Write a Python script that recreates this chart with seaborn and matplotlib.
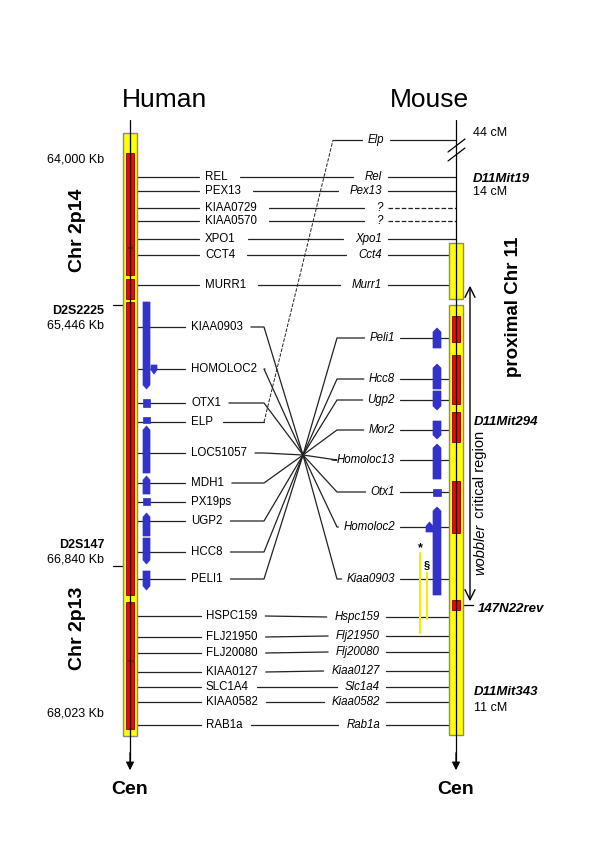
import matplotlib.pyplot as plt
import seaborn as sns
from matplotlib.patches import Rectangle, Polygon

# genes shared by the two maps, top block
human_top = ['REL', 'PEX13', 'KIAA0729', 'KIAA0570', 'XPO1', 'CCT4', 'MURR1']
mouse_top = ['Rel', 'Pex13', '?', '?', 'Xpo1', 'Cct4', 'Murr1']
top_y = [177, 191, 208, 221, 239, 255, 285]
top_unmapped = [False, False, True, True, False, False, False]

# inverted block (crossing lines)
human_mid = ['KIAA0903', 'HOMOLOC2', 'OTX1', 'ELP', 'LOC51057', 'MDH1', 'PX19ps', 'UGP2', 'HCC8', 'PELI1']
human_mid_y = [327, 369, 403, 422, 453, 483, 502, 521, 552, 579]
human_mid_cross = [True, True, True, False, True, True, False, True, True, True]
mouse_mid = ['Peli1', 'Hcc8', 'Ugp2', 'Mor2', 'Homoloc13', 'Otx1', 'Homoloc2', 'Kiaa0903']
mouse_mid_y = [338, 379, 400, 430, 460, 492, 527, 579]
elp_mouse_y = 140

# bottom block
human_bot = ['HSPC159', 'FLJ21950', 'FLJ20080', 'KIAA0127', 'SLC1A4', 'KIAA0582', 'RAB1a']
human_bot_y = [616, 637, 653, 672, 687, 702, 725]
mouse_bot = ['Hspc159', 'Flj21950', 'Flj20080', 'Kiaa0127', 'Slc1a4', 'Kiaa0582', 'Rab1a']
mouse_bot_y = [617, 636, 652, 671, 687, 702, 725]

# contigs (yellow) and clones (red), start/end positions
human_yellow = [(133, 736)]
human_red = [(153, 247), (248, 275), (279, 299), (302, 595), (602, 660), (661, 729)]
mouse_yellow = [(243, 299), (305, 735)]
mouse_red = [(316, 342), (355, 404), (412, 442), (481, 533), (600, 610)]

# transcripts: (start, end, direction)
human_tx = [(302, 389, 'down'), (399, 407, ''), (417, 423, ''), (426, 473, 'up'),
            (476, 494, 'up'), (498, 505, ''), (513, 536, 'up'), (538, 564, 'down'),
            (571, 590, 'down')]
mouse_tx = [(328, 348, 'up'), (364, 389, 'up'), (391, 410, 'down'), (421, 439, 'down'),
            (444, 479, 'up'), (489, 496, ''), (507, 595, 'up')]

sns.set_theme(style='white')
plt.rcParams['font.family'] = ['Liberation Sans', 'DejaVu Sans']
plt.rcParams['text.color'] = 'black'

fig = plt.figure(figsize=(6, 8.66), dpi=100)
ax = fig.add_axes([0, 0, 1, 1])
ax.set_xlim(0, 600)
ax.set_ylim(866, 0)
ax.axis('off')
renderer = fig.canvas.get_renderer()

HX, MX = 130, 456
LC = '#222222'
BLUE = '#3333cc'


def put(x, y, s, ha='left', size=8.3, **kw):
    t = ax.text(x, y, s, ha=ha, va='center', fontsize=size, **kw)
    bb = t.get_window_extent(renderer).transformed(ax.transData.inverted())
    return bb.x0, bb.x1


def seg(xs, ys, **kw):
    kw.setdefault('color', LC)
    kw.setdefault('lw', 0.9)
    ax.plot(xs, ys, zorder=1, **kw)


def tx_box(x0, x1, y0, y1, d):
    xm, tip = (x0 + x1) / 2, 4
    if d == 'up':
        v = [(x0, y1), (x0, y0 + tip), (xm, y0), (x1, y0 + tip), (x1, y1)]
    elif d == 'down':
        v = [(x0, y0), (x1, y0), (x1, y1 - tip), (xm, y1), (x0, y1 - tip)]
    else:
        v = [(x0, y0), (x1, y0), (x1, y1), (x0, y1)]
    ax.add_patch(Polygon(v, closed=True, fc=BLUE, ec=BLUE, lw=0.5, zorder=3))


# chromosomes
for x, yel, red in [(HX, human_yellow, human_red), (MX, mouse_yellow, mouse_red)]:
    for a, b in yel:
        ax.add_patch(Rectangle((x - 7, a), 14, b - a, fc='#ffff00', ec='#888888', lw=1, zorder=2))
    for a, b in red:
        ax.add_patch(Rectangle((x - 4, a), 8, b - a, fc='#ff0000', ec='#880000', lw=0.6, zorder=2.5))
    ax.plot([x, x], [120, 765], color='black', lw=0.9, zorder=4)
    ax.annotate('', xy=(x, 773), xytext=(x, 750),
                arrowprops=dict(arrowstyle='-|>', color='black', lw=0.9,
                                mutation_scale=12), zorder=4)
    ax.text(x, 790, 'Cen', ha='center', va='center', fontsize=14, fontweight='bold')

ax.text(165, 100, 'Human', ha='center', va='center', fontsize=19)
ax.text(429, 100, 'Mouse', ha='center', va='center', fontsize=19)

# break on the mouse map
seg([448, 465], [152, 139], color='black')
seg([448, 465], [161, 148], color='black')

for d in human_tx:
    tx_box(143, 150, *d[:2], d[2])
tx_box(151, 157, 365, 374, 'down')
for d in mouse_tx:
    tx_box(433, 441, *d[:2], d[2])
tx_box(426, 433, 522, 532, 'up')

# top block
for hg, mg, y, unk in zip(human_top, mouse_top, top_y, top_unmapped):
    h0, h1 = put(205, y, hg)
    m0, m1 = put(382, y, mg, ha='right', style='italic')
    seg([HX, h0 - 6], [y, y])
    seg([h1 + 12, m0 - 12], [y, y])
    seg([m1 + 6, MX], [y, y], ls='--' if unk else '-')

# bottom block
for hg, mg, yh, ym in zip(human_bot, mouse_bot, human_bot_y, mouse_bot_y):
    h0, h1 = put(206, yh, hg)
    m0, m1 = put(380, ym, mg, ha='right', style='italic')
    seg([HX, h0 - 5], [yh, yh])
    seg([h1 + 8, m0 - 8], [yh, ym])
    seg([m1 + 6, MX], [ym, ym])

# inverted block
cx, cy = 303, 455
helb, melb = 264, 337
for g, y, cross in zip(human_mid, human_mid_y, human_mid_cross):
    h0, h1 = put(191, y, g)
    seg([HX, h0 - 6], [y, y])
    if cross:
        seg([h1 + 8, helb, cx], [y, y, cy])
    elif g == 'ELP':
        seg([h1 + 10, helb], [y, y])
        seg([helb, melb - 4], [y, elp_mouse_y], ls='--', lw=0.7)
for g, y in zip(mouse_mid, mouse_mid_y):
    m0, m1 = put(395, y, g, ha='right', style='italic')
    seg([cx, melb, m0 - 5], [cy, y, y])
    seg([m1 + 5, MX], [y, y])
m0, m1 = put(384, elp_mouse_y, 'Elp', ha='right', style='italic')
seg([melb - 4, m0 - 6], [elp_mouse_y, elp_mouse_y])
seg([m1 + 6, MX], [elp_mouse_y, elp_mouse_y])

# human side annotations
for y, s, bold in [(159, '64,000 Kb', False), (311, 'D2S2225', True), (325, '65,446 Kb', False),
                   (545, 'D2S147', True), (559, '66,840 Kb', False), (713, '68,023 Kb', False)]:
    put(104, y, s, ha='right', size=9, fontweight='bold' if bold else 'normal')
seg([113, 125], [305, 305], color='black')
seg([113, 125], [566, 566], color='black')
ax.text(77, 230, 'Chr 2p14', rotation=90, ha='center', va='center', fontsize=14, fontweight='bold')
ax.text(77, 628, 'Chr 2p13', rotation=90, ha='center', va='center', fontsize=14, fontweight='bold')

# mouse side annotations
for y, x, s, bi in [(133, 473, '44 cM', False), (179, 473, 'D11Mit19', True), (192, 473, '14 cM', False),
                    (422, 474, 'D11Mit294', True), (609, 478, '147N22rev', True),
                    (692, 474, 'D11Mit343', True), (708, 474, '11 cM', False)]:
    if bi:
        put(x, y, s, size=9.5, fontweight='bold', style='italic')
    else:
        put(x, y, s, size=9)
seg([460, 473], [605, 605], color='black')
ax.text(513, 307, 'proximal Chr 11', rotation=90, ha='center', va='center', fontsize=13.5, fontweight='bold')

ax.annotate('', xy=(470, 283), xytext=(470, 604),
            arrowprops=dict(arrowstyle='<->', color='black', lw=1, mutation_scale=18))
t = ax.text(480, 575, 'wobbler', rotation=90, ha='center', va='bottom', fontsize=10.5, style='italic')
bb = t.get_window_extent(renderer).transformed(ax.transData.inverted())
ax.text(480, min(bb.y0, bb.y1) - 2, ' critical region', rotation=90, ha='center', va='bottom', fontsize=10.5)

# regions covered by other clones
ax.plot([420, 420], [553, 633], color='#eeee00', lw=1.5, zorder=1)
ax.plot([427, 427], [573, 619], color='#eeee00', lw=1.5, zorder=1)
ax.text(420, 548, '*', ha='center', va='center', fontsize=9, fontweight='bold')
ax.text(427, 565, '§', ha='center', va='center', fontsize=8, fontweight='bold')

fig.savefig('out.png', dpi=100)
